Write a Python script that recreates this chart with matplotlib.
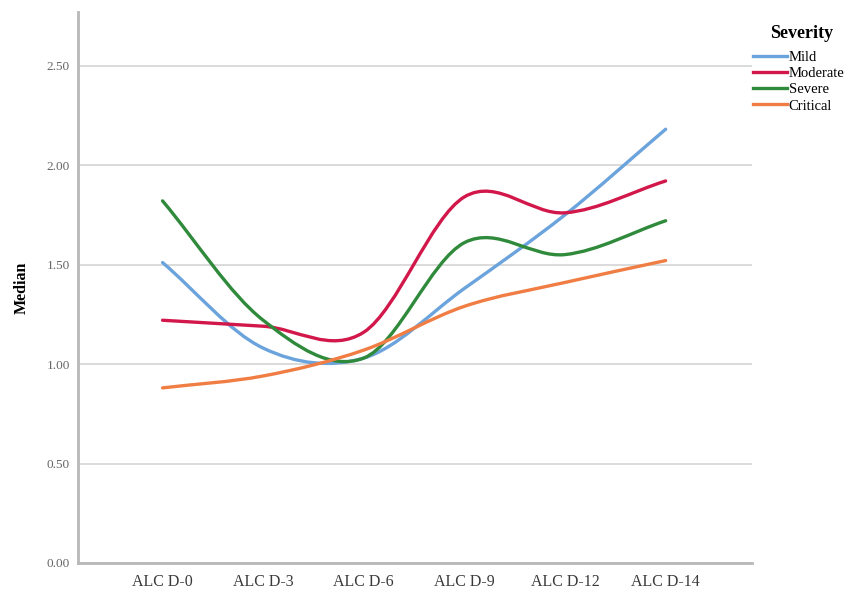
import matplotlib.pyplot as plt
from matplotlib.path import Path
from matplotlib.patches import PathPatch
from matplotlib.lines import Line2D
import numpy as np

plt.rcParams['font.family'] = ['Liberation Serif', 'DejaVu Serif']

days = ['ALC D-0', 'ALC D-3', 'ALC D-6', 'ALC D-9', 'ALC D-12', 'ALC D-14']
mild = [1.51, 1.08, 1.03, 1.38, 1.75, 2.18]
moderate = [1.22, 1.19, 1.16, 1.84, 1.76, 1.92]
severe = [1.82, 1.22, 1.03, 1.61, 1.55, 1.72]
critical = [0.88, 0.94, 1.07, 1.29, 1.41, 1.52]

series = [('Mild', mild, '#6ba3dc'),
          ('Moderate', moderate, '#d2174a'),
          ('Severe', severe, '#2f8a3b'),
          ('Critical', critical, '#f07d43')]


def smooth_path(xs, ys):
    # Catmull-Rom segments turned into cubic Bezier pieces
    pts = np.column_stack([xs, ys]).astype(float)
    ext = np.vstack([2 * pts[0] - pts[1], pts, 2 * pts[-1] - pts[-2]])
    verts = [pts[0]]
    codes = [Path.MOVETO]
    for i in range(1, len(ext) - 2):
        p0, p1, p2, p3 = ext[i - 1], ext[i], ext[i + 1], ext[i + 2]
        verts += [p1 + (p2 - p0) / 6, p2 - (p3 - p1) / 6, p2]
        codes += [Path.CURVE4] * 3
    return Path(verts, codes)


fig = plt.figure(figsize=(8.48, 5.92), dpi=100)
ax = fig.add_axes([0.092, 0.049, 0.795, 0.931])

x = np.arange(len(days))
for name, vals, col in series:
    ax.add_patch(PathPatch(smooth_path(x, vals), facecolor='none',
                           edgecolor=col, lw=2.4, capstyle='round'))

ax.set_xlim(-0.84, 5.86)
ax.set_ylim(0, 2.77)
ax.set_yticks(np.arange(0, 2.51, 0.5))
ax.set_yticklabels([f'{v:.2f}' for v in np.arange(0, 2.51, 0.5)])
ax.set_xticks(x)
ax.set_xticklabels(days)
ax.tick_params(axis='both', length=0)
ax.tick_params(axis='y', labelsize=9.5, pad=6, colors='#666666')
ax.tick_params(axis='x', labelsize=11.5, pad=8, colors='#3a3a3a')

ax.grid(axis='y', color='#d4d4d4', lw=1.2)
ax.set_axisbelow(True)
for s in ['top', 'right']:
    ax.spines[s].set_visible(False)
for s in ['left', 'bottom']:
    ax.spines[s].set_color('#b8b8b8')
    ax.spines[s].set_linewidth(2)

ax.set_ylabel('Median', fontsize=11.5, fontweight='bold', labelpad=12)

# legend placed to the right of the plot area, title drawn separately
fig.text(802 / 848, 1 - 34 / 592, 'Severity', ha='center', va='center',
         fontsize=13, fontweight='bold')
handles = [Line2D([], [], color=c, lw=2.4) for _, _, c in series]
fig.legend(handles, [n for n, _, _ in series],
           loc='upper left', bbox_to_anchor=(753 / 848, 1 - 51 / 592),
           frameon=False, fontsize=10.5, handlelength=2.3,
           handletextpad=0.15, labelspacing=0.2, borderaxespad=0,
           borderpad=0)

fig.savefig('out.png', dpi=100)
